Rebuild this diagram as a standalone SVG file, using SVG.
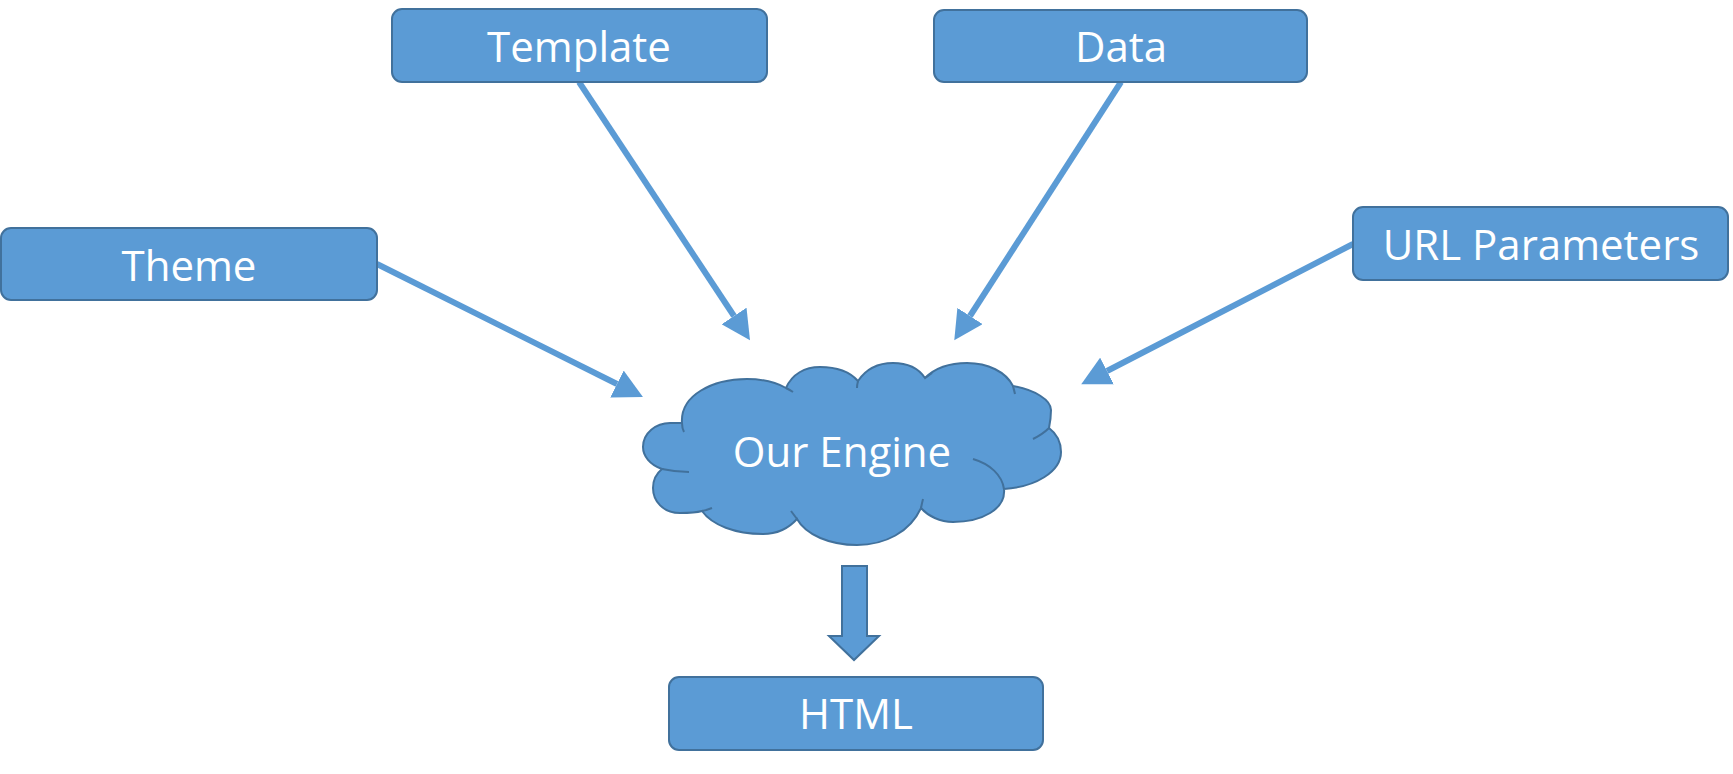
<svg xmlns="http://www.w3.org/2000/svg" width="1733" height="774" viewBox="0 0 1733 774">
<style>
.box{fill:#5B9BD5;stroke:#41719C;stroke-width:2}
.lbl{fill:#FFFFFF;font-family:"Open Sans","Liberation Sans",sans-serif;font-size:42px;text-anchor:middle}
.conn{fill:none;stroke:#5B9BD5;stroke-width:6;marker-end:url(#ah)}
.crease{fill:none;stroke:#41719C;stroke-width:2}
</style>
<defs>
<marker id="ah" markerUnits="userSpaceOnUse" markerWidth="30" markerHeight="30" viewBox="0 0 30 30" refX="0" refY="15" orient="auto">
<path d="M0,0 L29,15 L0,30 z" fill="#5B9BD5"/>
</marker>
</defs>
<g id="connectors">
<line class="conn" x1="579" y1="82" x2="734" y2="316"/>
<line class="conn" x1="1121" y1="82" x2="970" y2="316"/>
<line class="conn" x1="377" y1="264" x2="617" y2="384"/>
<line class="conn" x1="1353" y1="244" x2="1107" y2="371"/>
<path id="block-arrow" d="M842,566 L867,566 L867,636 L879,636 L854,660 L829,636 L842,636 Z" fill="#5B9BD5" stroke="#41719C" stroke-width="2"/>
</g>
<g id="template">
<rect class="box" x="392" y="9" width="375" height="73" rx="10"/>
<text class="lbl" x="579" y="62">Template</text>
</g>
<g id="data">
<rect class="box" x="934" y="10" width="373" height="72" rx="10"/>
<text class="lbl" x="1121" y="62">Data</text>
</g>
<g id="theme">
<rect class="box" x="1" y="228" width="376" height="72" rx="10"/>
<text class="lbl" x="189" y="281">Theme</text>
</g>
<g id="url-parameters">
<rect class="box" x="1353" y="207" width="375" height="73" rx="10"/>
<text class="lbl" x="1541" y="260">URL Parameters</text>
</g>
<g id="html">
<rect class="box" x="669" y="677" width="374" height="73" rx="10"/>
<text class="lbl" x="856" y="729">HTML</text>
</g>
<g id="our-engine">
<path fill="#5B9BD5" stroke="#41719C" stroke-width="2" d="M682,423 C680,395 713,379 747,379 C765,379 777,383 786,388 C792,374 805,367 820,367 C836,367 850,372 858,381 C866,369 879,363 893,363 C908,363 919,369 925,378 C935,368 950,363 967,363 C988,363 1006,372 1013,386 C1035,390 1051,400 1051,410 C1051,417 1050,423 1049,428 C1057,434 1061,443 1061,452 C1061,472 1035,487 1004,489 C1006,509 982,522 953,522 C940,522 928,516 921,508 C910,532 885,545 857,545 C830,545 806,535 797,519 C788,529 778,534 763,534 C735,534 712,525 702,511 C695,513 688,513 680,513 C663,513 653,501 653,488 C653,479 657,473 662,469 C650,465 643,456 643,447 C643,433 656,423 670,423 C675,423 679,423 682,423 Z"/>
<path class="crease" d="M682,423 Q682,428 684,432"/>
<path class="crease" d="M786,388 Q790,390 793,392"/>
<path class="crease" d="M858,381 Q857,385 857,388"/>
<path class="crease" d="M925,378 Q928,376 932,373"/>
<path class="crease" d="M1013,386 Q1014,390 1015,394"/>
<path class="crease" d="M1049,428 Q1043,434 1033,439"/>
<path class="crease" d="M1004,489 C1002,475 990,464 973,459"/>
<path class="crease" d="M921,508 Q922,503 923,499"/>
<path class="crease" d="M797,519 Q794,515 791,511"/>
<path class="crease" d="M702,511 Q707,510 712,508"/>
<path class="crease" d="M662,469 Q676,472 689,472"/>
<text class="lbl" x="842" y="467">Our Engine</text>
</g>
</svg>
